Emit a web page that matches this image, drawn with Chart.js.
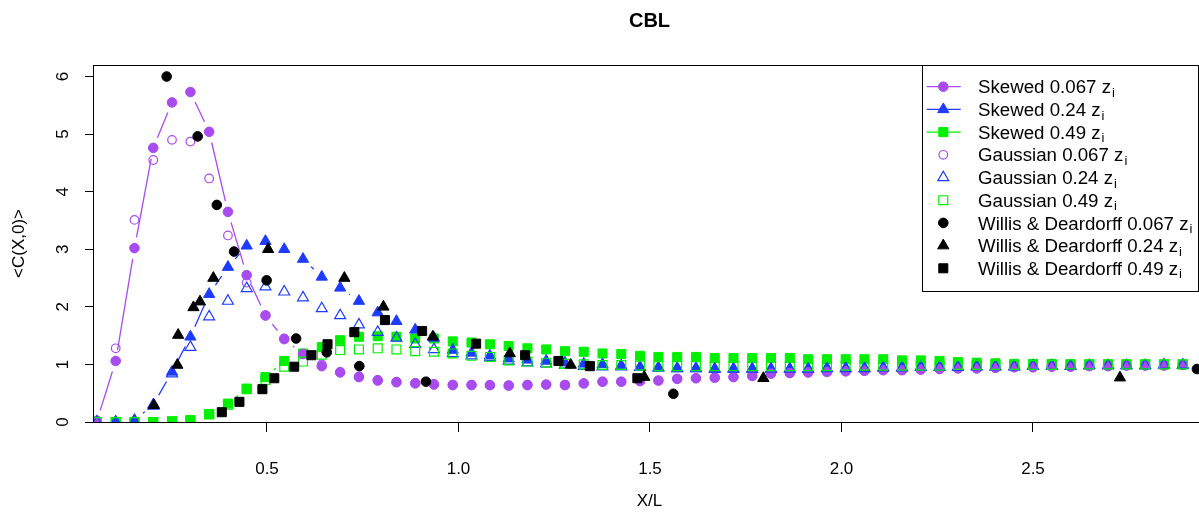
<!DOCTYPE html>
<html>
<head>
<meta charset="utf-8">
<script src="https://cdn.jsdelivr.net/npm/chart.js@4/dist/chart.umd.min.js"></script>
<style>
  html, body { margin: 0; padding: 0; background: #fff; overflow: hidden; }
  #wrap { width: 1199px; height: 515px; overflow: hidden; }
</style>
</head>
<body>
<div id="wrap"><canvas id="cbl" width="1207" height="515"></canvas></div>
<script>
// X/L positions shared by the model curves
const xGrid = [0.056, 0.105, 0.154, 0.203, 0.252, 0.300, 0.349, 0.398, 0.447, 0.496,
  0.545, 0.594, 0.643, 0.691, 0.740, 0.789, 0.838, 0.887, 0.936, 0.985,
  1.034, 1.082, 1.131, 1.180, 1.229, 1.278, 1.327, 1.376, 1.425, 1.474,
  1.522, 1.571, 1.620, 1.669, 1.718, 1.767, 1.816, 1.865, 1.913, 1.962,
  2.011, 2.060, 2.109, 2.158, 2.207, 2.256, 2.304, 2.353, 2.402, 2.451,
  2.500, 2.549, 2.598, 2.647, 2.696, 2.744, 2.793, 2.842, 2.891];

const skew067 = [0.02, 1.06, 3.02, 4.76, 5.55, 5.73, 5.04, 3.65, 2.55, 1.85,
  1.44, 1.18, 0.97, 0.86, 0.78, 0.72, 0.69, 0.67, 0.65, 0.64,
  0.64, 0.64, 0.63, 0.64, 0.65, 0.64, 0.67, 0.70, 0.70, 0.71,
  0.72, 0.75, 0.76, 0.77, 0.78, 0.80, 0.84, 0.85, 0.86, 0.87,
  0.88, 0.89, 0.90, 0.90, 0.91, 0.92, 0.93, 0.93, 0.94, 0.95,
  0.95, 0.96, 0.96, 0.97, 0.97, 0.98, 0.98, 0.98, 0.99];
const skew024 = [0.00, 0.00, 0.03, 0.30, 0.87, 1.48, 2.22, 2.69, 3.06, 3.14,
  3.00, 2.83, 2.52, 2.33, 2.10, 1.90, 1.75, 1.60, 1.46, 1.25,
  1.20, 1.15, 1.10, 1.08, 1.06, 1.03, 1.01, 1.00, 0.98, 0.95,
  0.94, 0.93, 0.93, 0.92, 0.92, 0.92, 0.92, 0.92, 0.92, 0.93,
  0.93, 0.93, 0.94, 0.94, 0.95, 0.95, 0.95, 0.96, 0.96, 0.96,
  0.97, 0.97, 0.97, 0.98, 0.98, 0.98, 0.98, 0.99, 0.99];
const skew049 = [0.00, 0.00, 0.00, 0.00, 0.01, 0.03, 0.14, 0.32, 0.58, 0.78,
  1.06, 1.19, 1.30, 1.42, 1.48, 1.49, 1.48, 1.45, 1.45, 1.40,
  1.38, 1.35, 1.32, 1.28, 1.26, 1.23, 1.22, 1.19, 1.18, 1.15,
  1.13, 1.13, 1.13, 1.11, 1.11, 1.11, 1.11, 1.11, 1.09, 1.09,
  1.09, 1.09, 1.09, 1.07, 1.07, 1.06, 1.04, 1.03, 1.02, 1.01,
  1.01, 1.01, 1.00, 1.00, 1.00, 1.00, 1.00, 1.00, 1.00];
const gaus067 = [0.02, 1.28, 3.51, 4.55, 4.90, 4.87, 4.23, 3.24, 2.42, 1.85,
  1.45, 1.18, 1.00, 0.87, 0.79, 0.73, 0.70, 0.68, 0.66, 0.65,
  0.65, 0.64, 0.64, 0.65, 0.65, 0.65, 0.67, 0.70, 0.70, 0.71,
  0.72, 0.75, 0.76, 0.77, 0.78, 0.80, 0.84, 0.85, 0.86, 0.87,
  0.88, 0.89, 0.90, 0.90, 0.91, 0.92, 0.93, 0.93, 0.94, 0.95,
  0.95, 0.96, 0.96, 0.97, 0.97, 0.98, 0.98, 0.98, 0.99];
const gaus024 = [0.00, 0.00, 0.02, 0.28, 0.84, 1.30, 1.83, 2.10, 2.32, 2.35,
  2.26, 2.16, 1.97, 1.85, 1.69, 1.56, 1.46, 1.35, 1.26, 1.19,
  1.15, 1.12, 1.06, 1.03, 1.01, 0.99, 0.97, 0.96, 0.96, 0.95,
  0.94, 0.93, 0.93, 0.92, 0.92, 0.92, 0.92, 0.92, 0.92, 0.93,
  0.93, 0.93, 0.94, 0.94, 0.95, 0.95, 0.95, 0.96, 0.96, 0.96,
  0.97, 0.97, 0.97, 0.98, 0.98, 0.98, 0.98, 0.99, 0.99];
const gaus049 = [0.00, 0.00, 0.00, 0.00, 0.01, 0.03, 0.13, 0.30, 0.57, 0.73,
  0.96, 1.05, 1.17, 1.25, 1.26, 1.28, 1.26, 1.23, 1.22, 1.19,
  1.15, 1.13, 1.07, 1.05, 1.03, 1.01, 1.00, 0.99, 0.99, 0.98,
  0.97, 0.97, 0.97, 0.97, 0.97, 0.97, 0.97, 0.97, 0.97, 0.97,
  0.98, 0.98, 0.98, 0.98, 0.98, 0.98, 0.99, 0.99, 0.99, 0.99,
  0.99, 0.99, 1.00, 1.00, 1.00, 1.00, 1.00, 1.00, 1.00];

// Willis & Deardorff tank measurements
const wd067X = [0.238, 0.319, 0.369, 0.414, 0.499, 0.576, 0.656, 0.741, 0.915, 1.561, 2.928];
const wd067Y = [6.00, 4.96, 3.77, 2.96, 2.46, 1.45, 1.21, 0.97, 0.70, 0.49, 0.92];
const wd024X = [0.205, 0.266, 0.268, 0.308, 0.325, 0.360, 0.503, 0.702, 0.804, 0.933, 1.134, 1.293, 1.485, 1.796, 2.727];
const wd024Y = [0.29, 0.99, 1.51, 1.99, 2.09, 2.50, 3.00, 2.50, 2.00, 1.48, 1.19, 0.99, 0.78, 0.76, 0.77];
const wd049X = [0.382, 0.428, 0.488, 0.519, 0.571, 0.616, 0.658, 0.728, 0.808, 0.905, 1.046, 1.174, 1.261, 1.343, 1.467];
const wd049Y = [0.17, 0.35, 0.57, 0.76, 0.96, 1.16, 1.35, 1.56, 1.77, 1.58, 1.36, 1.16, 1.06, 0.97, 0.76];

const xTicks = [0.5, 1.0, 1.5, 2.0, 2.5];
const xTickLabels = ['0.5', '1.0', '1.5', '2.0', '2.5'];
const yTicks = [0, 1, 2, 3, 4, 5, 6];

const legendNames = ['Skewed 0.067 z', 'Skewed 0.24 z', 'Skewed 0.49 z',
  'Gaussian 0.067 z', 'Gaussian 0.24 z', 'Gaussian 0.49 z',
  'Willis & Deardorff 0.067 z', 'Willis & Deardorff 0.24 z', 'Willis & Deardorff 0.49 z'];

const PURPLE = '#A84BEF', BLUE = '#1E3CFF', GREEN = '#00F000', BLACK = '#000';
const FONT = "'Liberation Sans', Arial, Helvetica, sans-serif";

function pts(xs, ys) { return xs.map((x, i) => ({ x: x, y: ys[i] })); }

function series(name, xs, ys, color, style, radius, filled, order, gapLine) {
  return {
    label: name, data: pts(xs, ys), order: order, clip: 0,
    pointStyle: style, pointRadius: radius,
    pointBackgroundColor: filled ? color : 'rgba(0,0,0,0)',
    pointBorderColor: color, pointBorderWidth: filled ? 1 : 1.2,
    backgroundColor: color, borderColor: color,
    gapLine: gapLine, filled: filled
  };
}

const datasets = [
  series(legendNames[0], xGrid, skew067, PURPLE, 'circle', 4.8, true, 7, true),
  series(legendNames[1], xGrid, skew024, BLUE, 'triangle', 6.5, true, 8, true),
  series(legendNames[2], xGrid, skew049, GREEN, 'rect', 6.4, true, 9, true),
  series(legendNames[3], xGrid, gaus067, PURPLE, 'circle', 4.3, false, 6, false),
  series(legendNames[4], xGrid, gaus024, BLUE, 'triangle', 6.3, false, 5, false),
  series(legendNames[5], xGrid, gaus049, GREEN, 'rect', 6.3, false, 4, false),
  series(legendNames[6], wd067X, wd067Y, BLACK, 'circle', 4.8, true, 3, false),
  series(legendNames[7], wd024X, wd024Y, BLACK, 'triangle', 6.5, true, 2, false),
  series(legendNames[8], wd049X, wd049Y, BLACK, 'rect', 6.4, true, 1, false)
];

// R-style type="b" lines: segments that stop short of each point
const gapLines = {
  id: 'gapLines',
  beforeDatasetsDraw(chart) {
    const ctx = chart.ctx, a = chart.chartArea, gap = 11;
    ctx.save();
    ctx.beginPath();
    ctx.rect(a.left, a.top, a.right - a.left, a.bottom - a.top);
    ctx.clip();
    chart.data.datasets.forEach((ds, di) => {
      if (!ds.gapLine) return;
      const els = chart.getDatasetMeta(di).data;
      ctx.strokeStyle = ds.borderColor;
      ctx.lineWidth = 1.3;
      for (let i = 1; i < els.length; i++) {
        const p = els[i - 1], q = els[i];
        const dx = q.x - p.x, dy = q.y - p.y, len = Math.hypot(dx, dy);
        if (len <= 2 * gap) continue;
        const ux = dx / len, uy = dy / len;
        ctx.beginPath();
        ctx.moveTo(p.x + ux * gap, p.y + uy * gap);
        ctx.lineTo(q.x - ux * gap, q.y - uy * gap);
        ctx.stroke();
      }
    });
    ctx.restore();
  }
};

function drawSub(ctx, text, x, y, size) {
  ctx.font = size + 'px ' + FONT;
  ctx.fillText(text, x, y);
  const w = ctx.measureText(text).width;
  ctx.font = Math.round(size * 0.7) + 'px ' + FONT;
  ctx.fillText('i', x + w + 1, y + 3.5);
}

const decorations = {
  id: 'decorations',
  afterDraw(chart) {
    const ctx = chart.ctx, a = chart.chartArea;
    const xs = chart.scales.x, ys = chart.scales.y;
    ctx.save();
    ctx.strokeStyle = '#000';
    ctx.lineWidth = 1;
    ctx.strokeRect(Math.round(a.left) + 0.5, Math.round(a.top) + 0.5,
      Math.round(a.right - a.left), Math.round(a.bottom - a.top));

    ctx.fillStyle = '#000';
    // title
    ctx.font = 'bold 20px ' + FONT;
    ctx.textAlign = 'center';
    ctx.textBaseline = 'alphabetic';
    ctx.fillText('CBL', (a.left + a.right) / 2, 27);

    // x tick labels and title
    ctx.font = '17px ' + FONT;
    xTicks.forEach((v, i) => ctx.fillText(xTickLabels[i], xs.getPixelForValue(v), 474));
    ctx.fillText('X/L', (a.left + a.right) / 2, 506);

    // y tick labels, rotated as in R
    ctx.textBaseline = 'middle';
    yTicks.forEach(v => {
      ctx.save();
      ctx.translate(63, ys.getPixelForValue(v));
      ctx.rotate(-Math.PI / 2);
      ctx.fillText(String(v), 0, 0);
      ctx.restore();
    });
    ctx.save();
    ctx.translate(19, (a.top + a.bottom) / 2);
    ctx.rotate(-Math.PI / 2);
    ctx.fillText('<C(X,0)>', 0, 0);
    ctx.restore();

    // legend
    const lx = 922, ly = 65, lw = 276, lh = 226;
    ctx.fillStyle = '#fff';
    ctx.fillRect(lx, ly, lw, lh);
    ctx.strokeStyle = '#000';
    ctx.strokeRect(lx + 0.5, ly + 0.5, lw, lh);
    chart.data.datasets.forEach((ds, i) => {
      const cy = 86.7 + i * 22.7, cx = 943.3;
      if (ds.gapLine) {
        ctx.strokeStyle = ds.borderColor;
        ctx.lineWidth = 1.3;
        ctx.beginPath();
        ctx.moveTo(926.7, cy);
        ctx.lineTo(960.7, cy);
        ctx.stroke();
      }
      ctx.fillStyle = ds.pointBackgroundColor;
      ctx.strokeStyle = ds.pointBorderColor;
      ctx.lineWidth = ds.pointBorderWidth;
      Chart.helpers.drawPoint(ctx, { pointStyle: ds.pointStyle, radius: ds.pointRadius,
        borderWidth: ds.pointBorderWidth, rotation: 0 }, cx, cy);
      ctx.fillStyle = '#000';
      ctx.textAlign = 'left';
      ctx.textBaseline = 'alphabetic';
      drawSub(ctx, ds.label, 978, cy + 6.6, 18.7);
    });
    ctx.restore();
  }
};

new Chart(document.getElementById('cbl').getContext('2d'), {
  type: 'scatter',
  data: { datasets: datasets },
  options: {
    responsive: false, animation: false, events: [],
    layout: { autoPadding: false, padding: { top: 65, right: 1, left: 0, bottom: 0 } },
    plugins: { legend: { display: false }, tooltip: { enabled: false }, title: { display: false } },
    scales: {
      x: {
        type: 'linear', min: 0.0457, max: 2.9517,
        afterBuildTicks: s => { s.ticks = xTicks.map(v => ({ value: v })); },
        afterFit: s => { s.height = 93; },
        ticks: { display: false },
        grid: { drawOnChartArea: false, drawTicks: true, tickLength: 10, color: '#000', lineWidth: 1 },
        border: { display: false }
      },
      y: {
        type: 'linear', min: 0, max: 6.2,
        afterBuildTicks: s => { s.ticks = yTicks.map(v => ({ value: v })); },
        afterFit: s => { s.width = 93; },
        ticks: { display: false },
        grid: { drawOnChartArea: false, drawTicks: true, tickLength: 8, color: '#000', lineWidth: 1 },
        border: { display: false }
      }
    }
  },
  plugins: [gapLines, decorations]
});
</script>
</body>
</html>
